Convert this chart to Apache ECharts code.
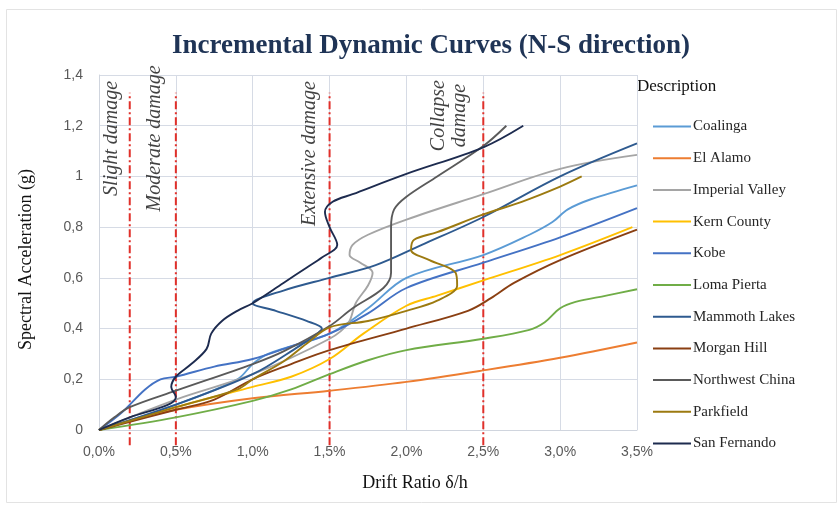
<!DOCTYPE html>
<html>
<head>
<meta charset="utf-8">
<script src="https://cdn.jsdelivr.net/npm/echarts@6/dist/echarts.min.js"></script>
<style>
  html, body { margin: 0; padding: 0; background: #ffffff; }
  #chart { width: 839px; height: 506px; }
</style>
</head>
<body>
<div id="chart"></div>
<script>
// Ground-motion records (legend order)
const recordNames = ['Coalinga', 'El Alamo', 'Imperial Valley', 'Kern County', 'Kobe',
  'Loma Pierta', 'Mammoth Lakes', 'Morgan Hill', 'Northwest China', 'Parkfield', 'San Fernando'];

// IDA curves: [drift ratio %, spectral acceleration g]
const coalinga = [[0,0],[0.5,0.1],[0.9,0.2],[1.0,0.26],[1.1,0.3],[1.5,0.38],[1.75,0.48],[2.0,0.6],[2.5,0.69],[2.8,0.77],[2.95,0.82],[3.05,0.87],[3.2,0.91],[3.5,0.965]];
const elAlamo = [[0,0],[0.25,0.045],[0.5,0.08],[1.0,0.125],[1.5,0.155],[2.0,0.19],[2.5,0.235],[3.0,0.285],[3.5,0.345]];
const imperialValley = [[0,0],[0.5,0.12],[1.0,0.22],[1.5,0.36],[1.62,0.42],[1.67,0.5],[1.75,0.57],[1.78,0.62],[1.7,0.66],[1.63,0.69],[1.65,0.73],[1.75,0.77],[2.0,0.83],[2.5,0.93],[3.0,1.03],[3.5,1.085]];
const kernCounty = [[0,0],[0.5,0.09],[1.0,0.17],[1.25,0.21],[1.5,0.28],[1.72,0.38],[2.0,0.49],[2.2,0.53],[2.5,0.59],[3.0,0.69],[3.47,0.8]];
const kobe = [[0,0],[0.15,0.07],[0.3,0.16],[0.4,0.2],[0.5,0.21],[0.75,0.25],[1.0,0.28],[1.25,0.33],[1.5,0.38],[1.75,0.46],[2.0,0.56],[2.5,0.66],[3.0,0.76],[3.5,0.875]];
const lomaPierta = [[0,0],[0.5,0.05],[1.0,0.115],[1.25,0.16],[1.5,0.22],[1.75,0.275],[2.0,0.315],[2.5,0.36],[2.8,0.395],[2.9,0.425],[3.0,0.48],[3.1,0.505],[3.3,0.53],[3.5,0.555]];
const mammothLakes = [[0,0],[0.5,0.1],[1.0,0.22],[1.3,0.33],[1.42,0.38],[1.45,0.4],[1.35,0.43],[1.15,0.47],[1.0,0.5],[1.2,0.55],[1.5,0.6],[1.8,0.65],[2.1,0.73],[2.5,0.84],[3.0,1.0],[3.5,1.13]];
const morganHill = [[0,0],[0.5,0.08],[0.75,0.12],[1.0,0.2],[1.25,0.26],[1.5,0.315],[2.0,0.4],[2.4,0.47],[2.55,0.52],[2.7,0.58],[3.0,0.67],[3.5,0.79]];
const northwestChina = [[0,0],[0.1,0.05],[0.2,0.09],[0.5,0.155],[1.0,0.26],[1.2,0.31],[1.5,0.41],[1.65,0.48],[1.85,0.56],[1.9,0.62],[1.9,0.8],[1.92,0.87],[2.0,0.92],[2.2,1.0],[2.5,1.12],[2.65,1.2]];
const parkfield = [[0,0],[0.5,0.09],[0.9,0.16],[1.0,0.2],[1.2,0.27],[1.35,0.34],[1.5,0.405],[1.75,0.43],[2.0,0.47],[2.2,0.51],[2.33,0.57],[2.32,0.62],[2.15,0.67],[2.03,0.71],[2.05,0.75],[2.2,0.78],[2.5,0.85],[2.75,0.9],[3.0,0.96],[3.14,1.0]];
const sanFernando = [[0,0],[0.2,0.05],[0.45,0.1],[0.5,0.13],[0.47,0.17],[0.5,0.21],[0.6,0.26],[0.7,0.32],[0.73,0.38],[0.8,0.43],[0.9,0.47],[1.0,0.5],[1.2,0.58],[1.35,0.64],[1.45,0.68],[1.55,0.73],[1.5,0.8],[1.47,0.86],[1.52,0.9],[1.65,0.93],[2.0,1.01],[2.5,1.115],[2.76,1.2]];

const recordData = [coalinga, elAlamo, imperialValley, kernCounty, kobe, lomaPierta,
  mammothLakes, morganHill, northwestChina, parkfield, sanFernando];

// Damage-state drift limits (%)
const damageLimits = [0.2, 0.5, 1.5, 2.5];
const damageNames = ['Slight damage', 'Moderate damage', 'Extensive damage', 'Collapse\ndamage'];

// Axis ticks
const xTicks = { min: 0, max: 3.5, step: 0.5 };
const yTicks = { min: 0, max: 1.4, step: 0.2 };

// ---- styling / layout ----
const recordColors = ['#5b9bd5', '#ed7d31', '#a5a5a5', '#ffc000', '#4472c4', '#70ad47',
  '#2e5a8f', '#8a3f12', '#5a5a5a', '#9c7a10', '#1d2b4f'];
const limitSpan = [-0.06, 1.33];                 // vertical extent of limit lines (g)
const labelAnchors = [[0.085, 1.15], [0.365, 1.15], [1.37, 1.09], [2.28, 1.24]];

const serif = '"Liberation Serif", "DejaVu Serif", serif';
const sans = '"Liberation Sans", Arial, sans-serif';

const fmtComma = (v, digits) => v.toFixed(digits).replace('.', ',');

const series = [];

recordNames.forEach((name, i) => {
  series.push({
    name: name,
    type: 'line',
    data: recordData[i],
    smooth: 0.35,
    symbol: 'none',
    clip: false,
    lineStyle: { width: 1.9, color: recordColors[i] },
    itemStyle: { color: recordColors[i] },
    z: 3
  });
});

damageLimits.forEach((d) => {
  series.push({
    type: 'line',
    data: [[d, limitSpan[0]], [d, limitSpan[1]]],
    symbol: 'none',
    clip: false,
    silent: true,
    lineStyle: { color: '#e0302a', width: 2, type: [8, 3, 2, 3] },
    z: 2
  });
});

series.push({
  type: 'scatter',
  symbolSize: 0,
  silent: true,
  data: damageNames.map((n, i) => ({ name: n, value: labelAnchors[i] })),
  label: {
    show: true,
    position: 'inside',
    formatter: '{b}',
    rotate: 90,
    align: 'center',
    verticalAlign: 'middle',
    fontFamily: serif,
    fontStyle: 'italic',
    fontSize: 20,
    lineHeight: 21,
    color: '#111'
  },
  z: 4
});

const chart = echarts.init(document.getElementById('chart'), null, { renderer: 'canvas' });

chart.setOption({
  animation: false,
  backgroundColor: '#ffffff',
  title: {
    text: 'Incremental Dynamic Curves (N-S direction)',
    left: 426,
    textAlign: 'center',
    top: 28,
    textStyle: { fontFamily: serif, fontWeight: 'bold', fontSize: 27, color: '#1f3456' }
  },
  graphic: [
    {
      type: 'rect', left: 4, top: 7, silent: true, z: -1,
      shape: { width: 830, height: 493 },
      style: { fill: 'none', stroke: '#e3e3e3', lineWidth: 1 }
    },
    {
      type: 'text', left: 637, top: 78,
      style: { text: 'Description', font: '17px ' + serif, fill: '#111' }
    }
  ],
  legend: {
    data: recordNames,
    orient: 'vertical',
    left: 648,
    top: 114,
    itemWidth: 38,
    itemHeight: 14,
    itemGap: 16.7,
    icon: 'path://M0,6 L38,6 L38,8 L0,8 Z',
    textStyle: { fontFamily: serif, fontSize: 15, color: '#262626', padding: [0, 0, 0, -3] },
    selectedMode: false
  },
  grid: { left: 99, right: 202, top: 75, bottom: 76, show: false },
  xAxis: {
    type: 'value',
    min: xTicks.min, max: xTicks.max, interval: xTicks.step,
    name: 'Drift Ratio δ/h',
    nameLocation: 'middle',
    nameGap: 44,
    nameTextStyle: { fontFamily: serif, fontSize: 18, color: '#111', padding: [0, 0, 0, 94] },
    axisLine: { show: true, lineStyle: { color: '#d0d5de', width: 1 } },
    axisTick: { show: false },
    axisLabel: {
      fontFamily: sans, fontSize: 14, color: '#595959', margin: 15,
      formatter: (v) => fmtComma(v, 1) + '%'
    },
    splitLine: { show: true, lineStyle: { color: '#d6dbe5', width: 1 } }
  },
  yAxis: {
    type: 'value',
    min: yTicks.min, max: yTicks.max, interval: yTicks.step,
    name: 'Spectral Acceleration (g)',
    nameLocation: 'middle',
    nameGap: 64,
    nameTextStyle: { fontFamily: serif, fontSize: 18, color: '#111', padding: [0, 14, 0, 0] },
    axisLine: { show: true, lineStyle: { color: '#d0d5de', width: 1 } },
    axisTick: { show: false },
    axisLabel: {
      fontFamily: sans, fontSize: 14, color: '#595959', margin: 16,
      formatter: (v) => (Math.abs(v - Math.round(v)) < 1e-9 ? String(Math.round(v)) : fmtComma(v, 1))
    },
    splitLine: { show: true, lineStyle: { color: '#d6dbe5', width: 1 } }
  },
  series: series
});
</script>
</body>
</html>
